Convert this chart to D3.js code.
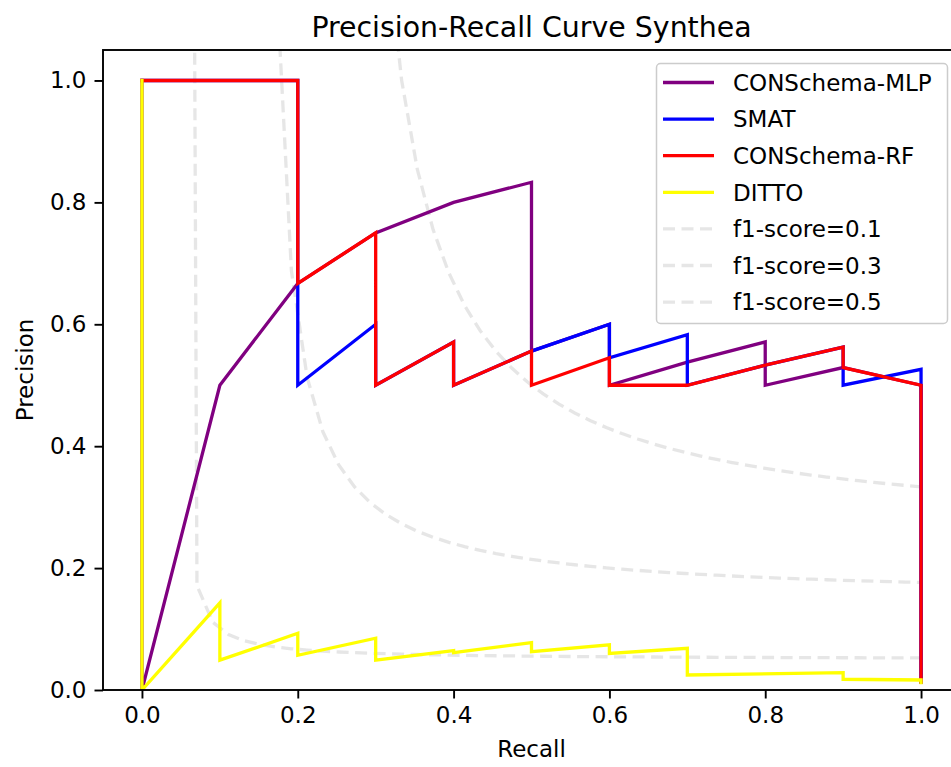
<!DOCTYPE html>
<html>
<head>
<meta charset="utf-8">
<script src="https://cdn.jsdelivr.net/npm/d3@7"></script>
<style>
  body { margin: 0; background: #fff; }
  svg { display: block; font-family: "DejaVu Sans", sans-serif; }
</style>
</head>
<body>
<div id="chart"></div>
<script>
// [recall, precision] points
const mlpPoints = [[0, 1], [0, 0], [0.1, 0.5], [0.2, 0.667], [0.3, 0.75], [0.4, 0.8], [0.5, 0.833],
  [0.5, 0.556], [0.6, 0.6], [0.6, 0.5], [0.7, 0.538], [0.8, 0.571], [0.8, 0.5], [0.9, 0.529],
  [1.0, 0.5], [1.0, 0.013]];
const smatPoints = [[0, 1], [0.1, 1], [0.2, 1], [0.2, 0.5], [0.3, 0.6], [0.3, 0.5], [0.4, 0.571],
  [0.4, 0.5], [0.5, 0.556], [0.6, 0.6], [0.6, 0.545], [0.7, 0.583], [0.7, 0.5], [0.8, 0.533],
  [0.9, 0.5625], [0.9, 0.5], [1.0, 0.526], [1.0, 0.013]];
const rfPoints = [[0, 1], [0.1, 1], [0.2, 1], [0.2, 0.667], [0.3, 0.75], [0.3, 0.5], [0.4, 0.571],
  [0.4, 0.5], [0.5, 0.556], [0.5, 0.5], [0.6, 0.545], [0.6, 0.5], [0.7, 0.5], [0.8, 0.533],
  [0.9, 0.5625], [0.9, 0.529], [1.0, 0.5], [1.0, 0.013]];
const dittoPoints = [[0, 1], [0, 0], [0.1, 0.143], [0.1, 0.049], [0.2, 0.093], [0.2, 0.057],
  [0.3, 0.085], [0.3, 0.049], [0.4, 0.0645], [0.4, 0.0615], [0.5, 0.0777], [0.5, 0.063],
  [0.6, 0.074], [0.6, 0.06], [0.7, 0.0685], [0.7, 0.0246], [0.9, 0.0284], [0.9, 0.0176],
  [1.0, 0.0164], [1.0, 0.012]];

const seriesNames = ['CONSchema-MLP', 'SMAT', 'CONSchema-RF', 'DITTO'];
const seriesColors = ['purple', 'blue', 'red', 'yellow'];
const seriesData = [mlpPoints, smatPoints, rfPoints, dittoPoints];

const f1Scores = [0.1, 0.3, 0.5];
const xTicks = [0, 0.2, 0.4, 0.6, 0.8, 1.0];
const yTicks = [0, 0.2, 0.4, 0.6, 0.8, 1.0];

let full_width = 951;
let full_height = 767;
let margin = {top: 50, left: 103, right: 0, bottom: 77};
// axes box keeps going past the right edge of the window (right spine at ~960)
let width = 857;
let height = full_height - margin.top - margin.bottom;

const fontSize = 23;
const lw = 3.3;

let svg = d3.select('#chart')
  .append('svg')
    .attr('width', full_width)
    .attr('height', full_height);

let g = svg.append('g')
  .attr('transform', 'translate(' + margin.left + ',' + margin.top + ')');

let x = d3.scaleLinear().domain([-0.05, 1.05]).range([0, width]);
let y = d3.scaleLinear().domain([0, 1.05]).range([height, 0]);

g.append('clipPath').attr('id', 'plotclip')
  .append('rect').attr('width', width).attr('height', height);

let plot = g.append('g').attr('clip-path', 'url(#plotclip)');

let line = d3.line().x(d => x(d[0])).y(d => y(d[1]));

// iso f1 curves, same sampling as sklearn's example (50 recall steps from 0.01 to 1)
const recallGrid = d3.range(50).map(i => 0.01 + i * 0.99 / 49);
f1Scores.forEach(f => {
  let pts = recallGrid.map(r => [r, f * r / (2 * r - f)]).filter(p => p[1] >= 0);
  plot.append('path')
    .attr('d', line(pts))
    .attr('fill', 'none')
    .attr('stroke', '#808080')
    .attr('stroke-opacity', 0.2)
    .attr('stroke-width', lw)
    .attr('stroke-dasharray', '12,6.5');
});

seriesData.forEach((pts, i) => {
  plot.append('path')
    .attr('d', line(pts))
    .attr('fill', 'none')
    .attr('stroke', seriesColors[i])
    .attr('stroke-width', lw)
    .attr('stroke-linejoin', 'miter')
    .attr('stroke-linecap', 'square');
});

// axes
let xAxis = g.append('g')
  .attr('transform', 'translate(0,' + height + ')')
  .call(d3.axisBottom(x).tickValues(xTicks).tickFormat(d3.format('.1f')).tickSize(8.5).tickPadding(8));
let yAxis = g.append('g')
  .call(d3.axisLeft(y).tickValues(yTicks).tickFormat(d3.format('.1f')).tickSize(8.5).tickPadding(8));

[xAxis, yAxis].forEach(a => {
  a.select('.domain').remove();
  a.selectAll('line').attr('stroke', '#000').attr('stroke-width', 1.9);
  a.selectAll('text').attr('font-size', fontSize).attr('font-family', '"DejaVu Sans", sans-serif').attr('fill', '#000');
});

// spines
g.append('rect')
  .attr('width', width).attr('height', height)
  .attr('fill', 'none').attr('stroke', '#000').attr('stroke-width', 1.9);

// labels
svg.append('text')
  .attr('x', margin.left + width / 2).attr('y', 37)
  .attr('text-anchor', 'middle').attr('font-size', 28.4)
  .text('Precision-Recall Curve Synthea');
svg.append('text')
  .attr('x', margin.left + width / 2).attr('y', 757)
  .attr('text-anchor', 'middle').attr('font-size', fontSize)
  .text('Recall');
svg.append('text')
  .attr('transform', 'translate(33,' + (margin.top + height / 2) + ') rotate(-90)')
  .attr('text-anchor', 'middle').attr('font-size', fontSize)
  .text('Precision');

// legend
let legend = svg.append('g');
legend.append('rect')
  .attr('x', 656.5).attr('y', 63.5).attr('width', 291).attr('height', 260)
  .attr('rx', 4)
  .attr('fill', '#fff').attr('fill-opacity', 0.8)
  .attr('stroke', '#cccccc').attr('stroke-width', 1.5);

let legendItems = seriesNames.map((n, i) => ({label: n, color: seriesColors[i], dashed: false}))
  .concat(f1Scores.map(f => ({label: 'f1-score=' + f, color: '#808080', dashed: true})));

legendItems.forEach((item, i) => {
  let cy = 82.5 + i * 36.6;
  legend.append('line')
    .attr('x1', 663).attr('x2', 714).attr('y1', cy).attr('y2', cy)
    .attr('stroke', item.color)
    .attr('stroke-opacity', item.dashed ? 0.2 : 1)
    .attr('stroke-width', lw)
    .attr('stroke-dasharray', item.dashed ? '12,6.5' : null);
  legend.append('text')
    .attr('x', 733).attr('y', cy).attr('dy', '0.36em')
    .attr('font-size', fontSize)
    .text(item.label);
});
</script>
</body>
</html>
